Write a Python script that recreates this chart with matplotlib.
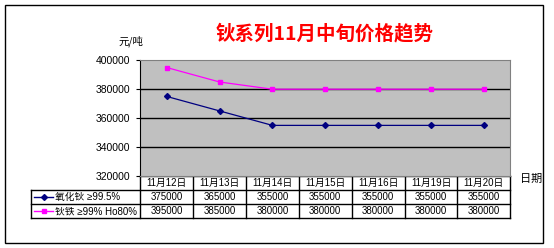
import matplotlib
matplotlib.use("Agg")
import matplotlib.pyplot as plt
import numpy as np

plt.rcParams['font.family'] = ['Liberation Sans', 'Noto Sans CJK SC', 'DejaVu Sans']

dates = ["11月12日", "11月13日", "11月14日", "11月15日", "11月16日", "11月19日", "11月20日"]
names = ["氧化钬 ≥99.5%", "钬铁 ≥99% Ho80%"]
ho_oxide = [375000, 365000, 355000, 355000, 355000, 355000, 355000]
ho_iron = [395000, 385000, 380000, 380000, 380000, 380000, 380000]
yticks = [320000, 340000, 360000, 380000, 400000]

W, H = 554, 248
fig = plt.figure(figsize=(W / 100, H / 100), dpi=100)

# pixel layout
px_l, px_r = 140.3, 510.3
px_top, px_bot = 60.3, 176.0
leg_l = 31.0
row_edges = [176.0, 190.0, 204.0, 218.3]

# overlay in pixel coordinates for border, table and labels
ov = fig.add_axes([0, 0, 1, 1])
ov.set_xlim(0, W)
ov.set_ylim(H, 0)
ov.axis("off")
ov.add_patch(plt.Rectangle((4.5, 4.5), 538, 238.5, fill=False, ec="black", lw=1))

ax = fig.add_axes([px_l / W, 1 - px_bot / H, (px_r - px_l) / W, (px_bot - px_top) / H])
ax.set_facecolor("#c0c0c0")
ax.set_xlim(0, len(dates))
ax.set_ylim(320000, 400000)
ax.set_yticks(yticks)
ax.set_yticklabels([str(v) for v in yticks], fontsize=7.5)
ax.set_xticks([])
ax.tick_params(axis="y", length=3, width=0.8, pad=4)
for v in yticks[1:-1]:
    ax.axhline(v, color="black", lw=1)
for s in ["top", "right", "bottom"]:
    ax.spines[s].set_color("#808080")
    ax.spines[s].set_linewidth(0.8)
ax.spines["left"].set_color("black")

x = np.arange(len(dates)) + 0.5
ax.plot(x, ho_oxide, color="#000080", lw=0.9, marker="D", ms=3, mfc="#000080", mec="#000080")
ax.plot(x, ho_iron, color="#ff00ff", lw=0.9, marker="s", ms=3.5, mfc="#ff00ff", mec="#ff00ff")

# data table
colw = (px_r - px_l) / len(dates)
lk = dict(color="black", lw=1)
for i in range(len(dates) + 1):
    xx = px_l + i * colw
    ov.plot([xx, xx], [row_edges[0], row_edges[-1]], **lk)
ov.plot([leg_l, leg_l], [row_edges[1], row_edges[-1]], **lk)
ov.plot([px_l, px_r], [row_edges[0], row_edges[0]], **lk)
for yy in row_edges[1:]:
    ov.plot([leg_l, px_r], [yy, yy], **lk)

for i, d in enumerate(dates):
    ov.text(px_l + (i + 0.5) * colw, (row_edges[0] + row_edges[1]) / 2, d,
            ha="center", va="center", fontsize=7)
series = [ho_oxide, ho_iron]
colors = ["#000080", "#ff00ff"]
markers = ["D", "s"]
for r, (vals, nm) in enumerate(zip(series, names)):
    yc = (row_edges[r + 1] + row_edges[r + 2]) / 2
    for i, v in enumerate(vals):
        ov.text(px_l + (i + 0.5) * colw, yc, str(v), ha="center", va="center", fontsize=7)
    ov.plot([33.7, 53.3], [yc, yc], color=colors[r], lw=1)
    ov.plot([43.5], [yc], marker=markers[r], color=colors[r], ms=3 if r == 0 else 3.5)
    ov.text(55, yc, nm, ha="left", va="center", fontsize=7)

ov.text(325, 33, "钬系列11月中旬价格趋势", ha="center", va="center", fontsize=14,
        color="red", fontweight="bold", family=['Noto Sans CJK SC', 'DejaVu Sans'])
ov.text(131, 41, "元/吨", ha="center", va="center", fontsize=7.5,
        family=['Noto Sans CJK SC', 'DejaVu Sans'])
ov.text(531, 179, "日期", ha="center", va="center", fontsize=8,
        family=['Noto Sans CJK SC', 'DejaVu Sans'])

fig.savefig("out.png", dpi=100)
